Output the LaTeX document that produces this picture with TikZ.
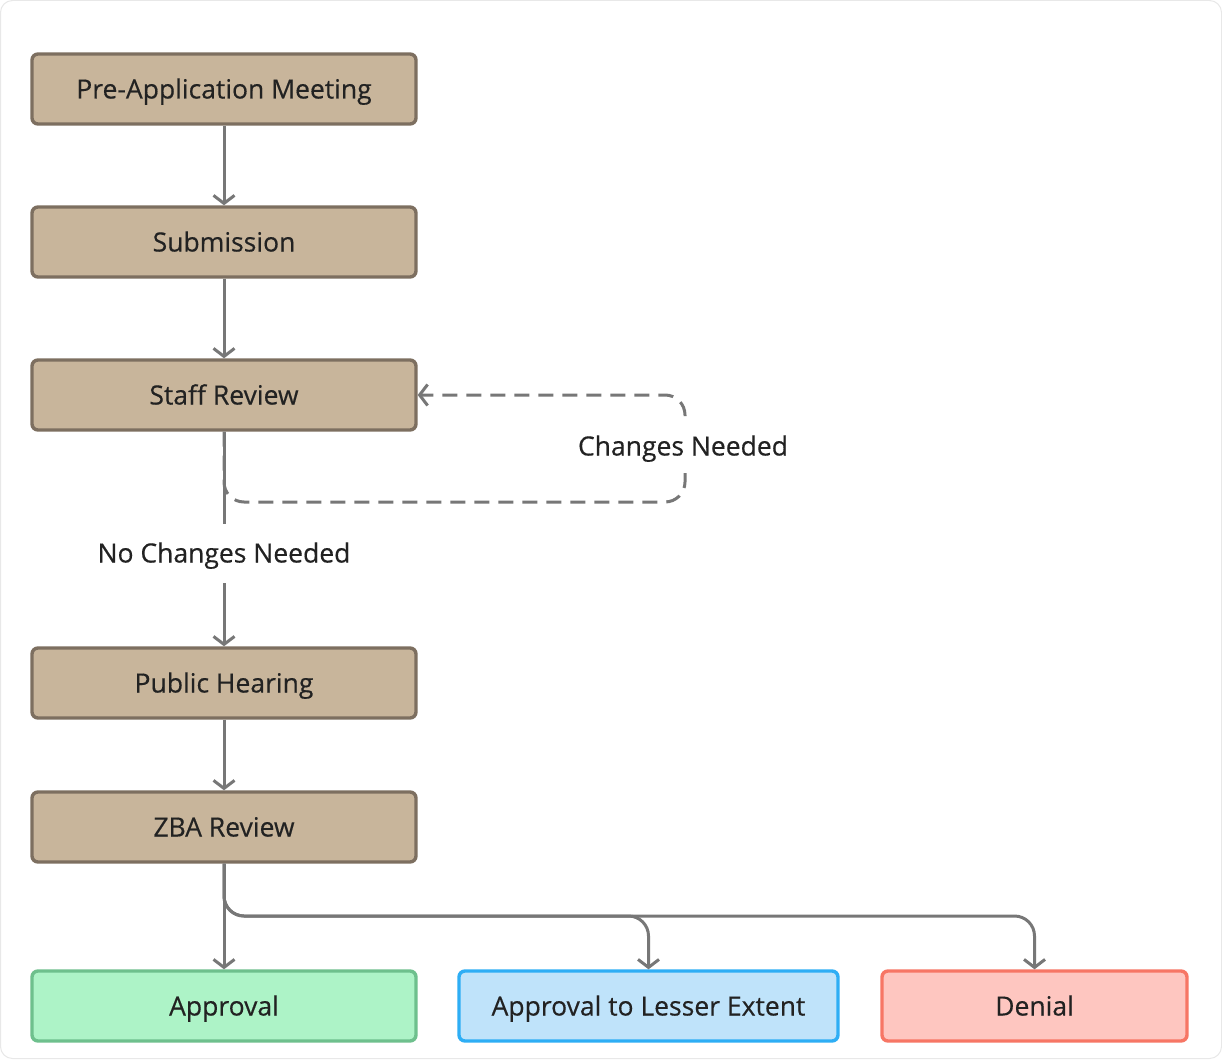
\documentclass[tikz,border=0pt]{standalone}
\usepackage{fontspec}
\setmainfont{Open Sans}
\usetikzlibrary{arrows.meta}
\definecolor{stepfill}{HTML}{C8B59B}
\definecolor{stepline}{HTML}{7D6F60}
\definecolor{okfill}{HTML}{ADF3C7}
\definecolor{okline}{HTML}{6EC08D}
\definecolor{partfill}{HTML}{BFE3FA}
\definecolor{partline}{HTML}{2EAEF5}
\definecolor{nofill}{HTML}{FEC6C0}
\definecolor{noline}{HTML}{F77665}
\definecolor{wire}{HTML}{777777}
\definecolor{txt}{HTML}{222222}
\tikzset{
  x=1pt, y=-1pt,
  labelfont/.style={font=\fontsize{26.5}{30}\selectfont\addfontfeature{FakeBold=0.4}, text=txt},
  box/.style={draw, line width=3.4pt, rounded corners=6pt, minimum height=70pt,
    labelfont, inner sep=0pt, text height=19pt, text depth=0pt},
  stepbox/.style={box, fill=stepfill, draw=stepline, minimum width=384pt},
  tip/.style={-{Straight Barb[length=8pt,width=21pt,line width=3pt]}},
  wirestyle/.style={draw=wire, line width=3pt, tip},
  lbl/.style={labelfont, fill=white, inner xsep=5pt, text height=19pt, text depth=0pt},
}
\begin{document}
\begin{tikzpicture}
  % page frame
  \draw[draw=black!9, line width=1pt, fill=white, rounded corners=12pt] (0.5,0.5) rectangle (1221.5,1058.5);
  \useasboundingbox (0,0) rectangle (1222,1059);

  % process steps
  \node[stepbox] (pre) at (224,89) {Pre-Application Meeting};
  \node[stepbox] (sub) at (224,242) {Submission};
  \node[stepbox] (staff) at (224,395) {Staff Review};
  \node[stepbox] (hear) at (224,683) {Public Hearing};
  \node[stepbox] (zba) at (224,827) {ZBA Review};

  % outcomes
  \node[box, fill=okfill, draw=okline, minimum width=384pt] (appr) at (224,1006) {Approval};
  \node[box, fill=partfill, draw=partline, minimum width=379pt] (less) at (648.5,1006) {Approval to Lesser Extent};
  \node[box, fill=nofill, draw=noline, minimum width=305pt] (deny) at (1034.5,1006) {Denial};

  % main flow
  \draw[wirestyle] (pre) -- (sub);
  \draw[wirestyle] (sub) -- (staff);

  % revision loop
  \coordinate (loopR) at (685,502);
  \draw[wire, line width=3pt, dash pattern=on 15pt off 9pt, rounded corners=20pt, tip]
    (staff.south) -- (224,502) -- (loopR) -- (685,395) -- (staff.east);
  \node[lbl, inner ysep=16pt] (chg) at (683,446) {Changes Needed};

  \draw[wirestyle] (staff) -- (hear);
  \node[lbl, inner ysep=20pt] (nochg) at (224,553) {No Changes Needed};

  \draw[wirestyle] (hear) -- (zba);

  % decisions
  \draw[wirestyle] (zba) -- (appr);
  \draw[wirestyle, rounded corners=20pt] (zba.south) -- (224,916) -- (648.5,916) -- (less.north);
  \draw[wirestyle, rounded corners=20pt] (zba.south) -- (224,916) -- (1034.5,916) -- (deny.north);
\end{tikzpicture}
\end{document}
